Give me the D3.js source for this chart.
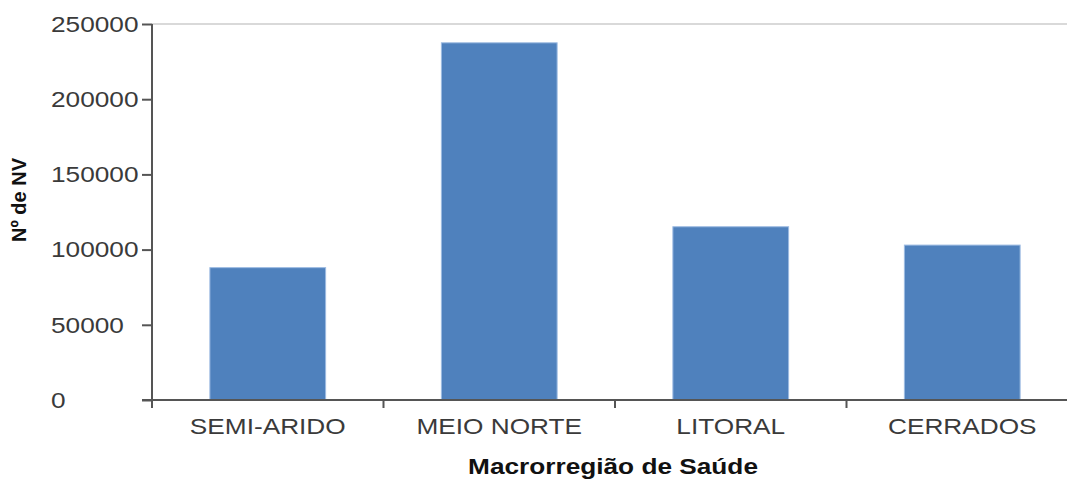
<!DOCTYPE html>
<html>
<head>
<meta charset="utf-8">
<script src="https://cdn.jsdelivr.net/npm/d3@7"></script>
<style>
  html, body { margin: 0; padding: 0; background: #fff; }
  svg { display: block; }
</style>
</head>
<body>
<svg id="chart" width="1067" height="479"></svg>
<script>
const categories = ["SEMI-ARIDO", "MEIO NORTE", "LITORAL", "CERRADOS"];
const values = [88000, 237500, 115200, 103000];
const yTicks = [0, 50000, 100000, 150000, 200000, 250000];
const xTitle = "Macrorregião de Saúde";
const yTitle = "Nº de NV";

const W = 1067, H = 479;
const plotLeft = 152, plotRight = 1078, plotTop = 24, plotBottom = 400;
const sx = 1.22;           // horizontal text stretch seen in reference
const font = "'Liberation Sans', Arial, sans-serif";

const svg = d3.select("#chart");

const x = d3.scaleBand().domain(categories).range([plotLeft, plotRight])
  .paddingInner(0.5).paddingOuter(0.25);
const step = x.step();
const y = d3.scaleLinear().domain([0, 250000]).range([plotBottom, plotTop]);

// top grid line
svg.append("line")
  .attr("x1", plotLeft).attr("x2", W)
  .attr("y1", y(250000)).attr("y2", y(250000))
  .attr("stroke", "#d9d9d9").attr("stroke-width", 2);

// bars
svg.append("g").selectAll("rect").data(categories).join("rect")
  .attr("x", d => x(d))
  .attr("width", x.bandwidth())
  .attr("y", (d, i) => y(values[i]))
  .attr("height", (d, i) => y(0) - y(values[i]))
  .attr("fill", "#4f81bd")
  .attr("stroke", "#9dbbe2").attr("stroke-width", 1);

// y axis
const gy = svg.append("g").attr("transform", `translate(${plotLeft},0)`)
  .call(d3.axisLeft(y).tickValues(yTicks).tickSize(10).tickSizeOuter(0).tickFormat(d3.format("d")));
gy.select(".domain").attr("stroke", "#555").attr("stroke-width", 2)
  .attr("d", `M0,${plotTop}V${plotBottom + 8}`);
gy.selectAll(".tick line").attr("stroke", "#555").attr("stroke-width", 2);
gy.selectAll(".tick text")
  .attr("text-anchor", "start")
  .attr("x", (51 - plotLeft) / sx)
  .attr("dy", "0.34em")
  .attr("transform", `scale(${sx},1)`)
  .style("font-family", font).style("font-size", "21.5px").attr("fill", "#3a3a3a");

// x axis
const gx = svg.append("g").attr("transform", `translate(0,${plotBottom})`)
  .call(d3.axisBottom(x).tickSize(0).tickSizeOuter(0));
gx.select(".domain").attr("stroke", "#555").attr("stroke-width", 2)
  .attr("d", `M${plotLeft - 10},0H${plotRight}`);
gx.selectAll(".tick text")
  .attr("y", 34).attr("dy", 0)
  .attr("transform", `scale(${sx},1)`)
  .style("font-family", font).style("font-size", "21.5px").attr("fill", "#3a3a3a");
// tick marks at band boundaries
gx.append("g").selectAll("line").data(categories).join("line")
  .attr("x1", d => x(d) - step * 0.25).attr("x2", d => x(d) - step * 0.25)
  .attr("y1", 0).attr("y2", 8)
  .attr("stroke", "#555").attr("stroke-width", 2);

// axis titles
svg.append("text")
  .attr("transform", `translate(${(plotLeft + plotRight) / 2 - 2},474) scale(${sx},1)`)
  .attr("text-anchor", "middle")
  .style("font-family", font).style("font-size", "21.5px").style("font-weight", "bold")
  .attr("fill", "#111").text(xTitle);

svg.append("text")
  .attr("transform", `translate(26,${(plotTop + plotBottom) / 2 - 12}) rotate(-90)`)
  .attr("text-anchor", "middle")
  .style("font-family", font).style("font-size", "20px").style("font-weight", "bold")
  .attr("fill", "#111").text(yTitle);
</script>
</body>
</html>
